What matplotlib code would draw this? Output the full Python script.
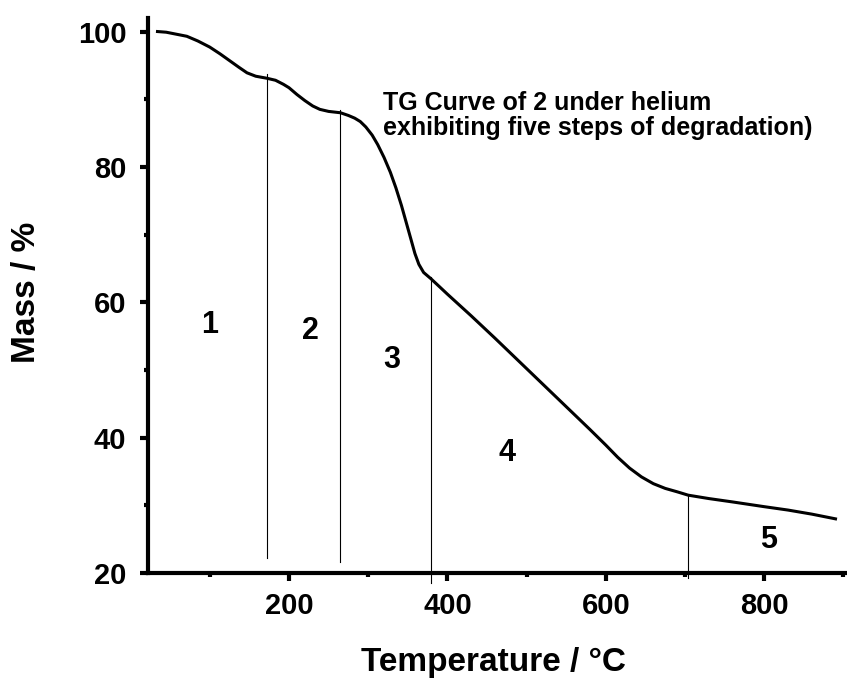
import matplotlib.pyplot as plt
from matplotlib.ticker import MultipleLocator

plt.rcParams['font.family'] = ['Liberation Sans', 'DejaVu Sans']
plt.rcParams['font.weight'] = 'bold'

# TG curve (temperature in °C, mass in %)
temp = [34, 45, 58, 71, 85, 100, 113, 125, 137, 147, 158, 172, 183, 193, 200,
        210, 220, 230, 239, 250, 265, 275, 283, 290, 297, 305, 312, 320, 328,
        335, 342, 348, 354, 359, 364, 370, 379, 390, 400, 430, 460, 500, 540,
        580, 600, 615, 630, 645, 660, 675, 690, 704, 730, 760, 800, 830, 860, 890]
mass = [100.0, 99.9, 99.6, 99.3, 98.6, 97.7, 96.7, 95.7, 94.7, 93.9, 93.4, 93.1,
        92.8, 92.2, 91.7, 90.7, 89.8, 89.0, 88.5, 88.2, 88.0, 87.6, 87.2, 86.7,
        85.9, 84.7, 83.3, 81.4, 79.2, 76.9, 74.3, 71.8, 69.3, 67.2, 65.6, 64.4,
        63.5, 62.3, 61.2, 58.0, 54.7, 50.2, 45.7, 41.2, 38.9, 37.1, 35.5, 34.2,
        33.2, 32.5, 32.0, 31.5, 31.0, 30.5, 29.8, 29.3, 28.7, 28.0]

# step boundaries
step_x = [172, 265, 379, 704]
step_bottom = [22.2, 21.6, 18.5, 19.3]
step_top = [93.8, 88.4, 63.8, 31.5]

# step numbers
step_labels = ["1", "2", "3", "4", "5"]
label_x = [100, 227, 330, 475, 805]
label_y = [56.6, 55.8, 51.5, 37.8, 24.9]

fig = plt.figure(figsize=(8.47, 6.81), dpi=100)
ax = fig.add_axes([148 / 847, 1 - 573 / 681, 697 / 847, 555 / 681])

ax.plot(temp, mass, color="black", lw=2.2, solid_joinstyle="round")
for x, y0, y1 in zip(step_x, step_bottom, step_top):
    ax.plot([x, x], [y0, y1], color="black", lw=0.8, clip_on=False)

for s, x, y in zip(step_labels, label_x, label_y):
    ax.text(x, y, s, fontsize=22, fontweight="bold", ha="center", va="center")

ax.text(319, 87.6, "TG Curve of 2 under helium\nexhibiting five steps of degradation)",
        fontsize=18, fontweight="bold", ha="left", va="center", linespacing=1.05)

ax.set_xlim(22, 902)
ax.set_ylim(20, 102)
ax.xaxis.set_major_locator(MultipleLocator(200))
ax.xaxis.set_minor_locator(MultipleLocator(100))
ax.yaxis.set_major_locator(MultipleLocator(20))
ax.yaxis.set_minor_locator(MultipleLocator(10))

for side in ["top", "right"]:
    ax.spines[side].set_visible(False)
for side in ["left", "bottom"]:
    ax.spines[side].set_linewidth(3)

ax.tick_params(which="major", direction="out", length=5.5, width=3, labelsize=21)
ax.tick_params(which="minor", direction="out", length=3, width=3)
ax.tick_params(axis="y", which="major", pad=10)
ax.tick_params(axis="x", which="major", pad=8)
for lab in ax.get_xticklabels() + ax.get_yticklabels():
    lab.set_fontweight("bold")

fig.text(493 / 847, 1 - 663 / 681, "Temperature / °C", fontsize=24, fontweight="bold",
         ha="center", va="center")
fig.text(26 / 847, 1 - 292 / 681, "Mass / %", fontsize=24, fontweight="bold",
         ha="center", va="center", rotation=90)

fig.savefig("out.png", dpi=100)
